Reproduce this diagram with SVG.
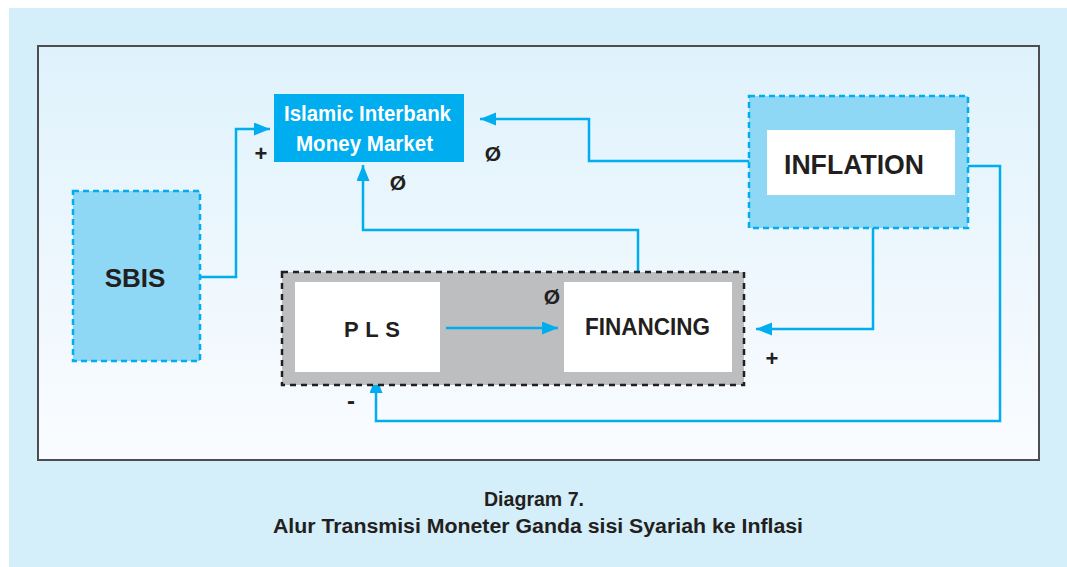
<svg xmlns="http://www.w3.org/2000/svg" width="1067" height="567" viewBox="0 0 1067 567">
<style>
.lbl{font-family:"Liberation Sans",Arial,sans-serif;font-weight:bold;fill:#231f20}
.wl{font-family:"Liberation Sans",Arial,sans-serif;font-weight:bold;fill:#ffffff}
.con{fill:none;stroke:#00adef;stroke-width:2.5}
.bluebox{fill:#8ed8f6;stroke:#00adef;stroke-width:2.5;stroke-dasharray:6 4}
.white{fill:#ffffff}
</style>
<defs>
<linearGradient id="pg" x1="0" y1="0" x2="0" y2="1">
<stop offset="0" stop-color="#dff2fc"/>
<stop offset="1" stop-color="#fafcff"/>
</linearGradient>
<marker id="ah" markerUnits="userSpaceOnUse" markerWidth="18" markerHeight="14" refX="16" refY="6.5" orient="auto">
<path d="M0,0 L16,6.5 L0,13 z" fill="#00adef"/>
</marker>
</defs>
<rect x="0" y="0" width="1067" height="567" fill="#ffffff"/>
<rect x="9" y="8" width="1058" height="559" fill="#d4eefa"/>
<rect x="38" y="46" width="1001" height="414" fill="url(#pg)" stroke="#4d4d4f" stroke-width="2"/>

<g id="connectors">
<polyline class="con" points="200,277 236,277 236,129 270,129" marker-end="url(#ah)"/>
<polyline class="con" points="749,161 589,161 589,119 480,119" marker-end="url(#ah)"/>
<polyline class="con" points="638,272 638,230 363,230 363,165" marker-end="url(#ah)"/>
<polyline class="con" points="873,228 873,329 756,329" marker-end="url(#ah)"/>
<polyline class="con" points="968,166 1000,166 1000,421 376,421 376,377" marker-end="url(#ah)"/>
</g>

<g id="iimm">
<rect x="274" y="94" width="190" height="68" fill="#00adef"/>
<text class="wl" x="284" y="121" font-size="22" textLength="167" lengthAdjust="spacingAndGlyphs">Islamic Interbank</text>
<text class="wl" x="296" y="151" font-size="22" textLength="137" lengthAdjust="spacingAndGlyphs">Money Market</text>
</g>

<g id="sbis">
<rect class="bluebox" x="73" y="191" width="127" height="170"/>
<text class="lbl" x="135" y="287" font-size="26" text-anchor="middle">SBIS</text>
</g>

<g id="inflation">
<rect class="bluebox" x="749" y="96" width="219" height="132"/>
<rect class="white" x="767" y="130" width="188" height="65"/>
<text class="lbl" x="784" y="174" font-size="28" textLength="140" lengthAdjust="spacingAndGlyphs">INFLATION</text>
</g>

<g id="group-pls-financing">
<rect x="282" y="272" width="462" height="113" fill="#bcbec0" stroke="#231f20" stroke-width="2.5" stroke-dasharray="6 5"/>
</g>

<g id="pls">
<rect class="white" x="295" y="282" width="145" height="90"/>
<text class="lbl" x="344" y="337" font-size="22" textLength="56" lengthAdjust="spacing">P L S</text>
</g>

<g id="financing">
<rect class="white" x="564" y="282" width="168" height="90"/>
<text class="lbl" x="585" y="335" font-size="23" textLength="125" lengthAdjust="spacingAndGlyphs">FINANCING</text>
</g>

<polyline class="con" points="446,328 558,328" marker-end="url(#ah)"/>

<g id="signs">
<text class="lbl" x="261" y="161" font-size="22" text-anchor="middle">+</text>
<text class="lbl" x="493" y="161" font-size="21" text-anchor="middle">Ø</text>
<text class="lbl" x="398" y="190" font-size="21" text-anchor="middle">Ø</text>
<text class="lbl" x="552" y="304" font-size="21" text-anchor="middle">Ø</text>
<text class="lbl" x="772" y="366" font-size="22" text-anchor="middle">+</text>
<text class="lbl" x="351" y="409" font-size="24" text-anchor="middle">-</text>
</g>

<g id="caption">
<text class="lbl" x="484" y="506" font-size="20" textLength="100" lengthAdjust="spacingAndGlyphs">Diagram 7.</text>
<text class="lbl" x="273" y="533" font-size="20" textLength="530" lengthAdjust="spacingAndGlyphs">Alur Transmisi Moneter Ganda sisi Syariah ke Inflasi</text>
</g>
</svg>
